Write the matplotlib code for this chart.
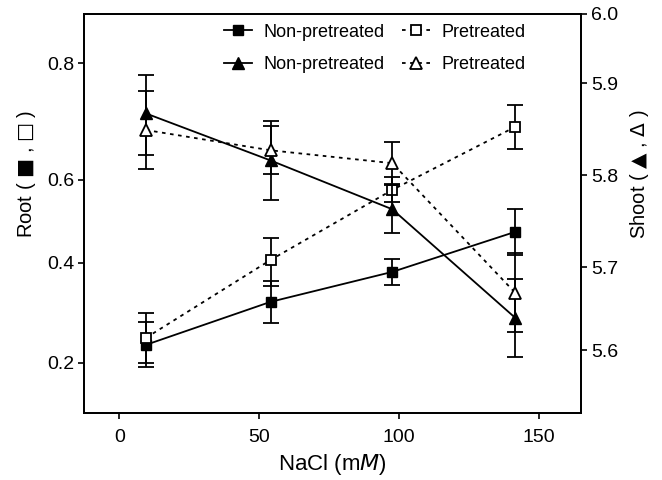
import numpy as np
import matplotlib
matplotlib.use("Agg")
import matplotlib.pyplot as plt

plt.rcParams["font.family"] = ["Liberation Sans", "DejaVu Sans"]
plt.rcParams["mathtext.fontset"] = "dejavusans"

# data
nacl = [9.5, 54, 97.5, 141.5]

root_np = [0.236, 0.322, 0.382, 0.475]
root_np_err = [0.045, 0.042, 0.027, 0.055]
root_p = [0.250, 0.407, 0.576, 0.691]
root_p_err = [0.050, 0.053, 0.029, 0.038]

shoot_np = [5.867, 5.816, 5.763, 5.639]
shoot_np_err = [0.045, 0.043, 0.026, 0.047]
shoot_p = [5.849, 5.827, 5.813, 5.669]
shoot_p_err = [0.042, 0.026, 0.023, 0.047]

# the printed axes are not evenly spaced, so calibrate each one from its ticks
left_ticks = [0.2, 0.4, 0.6, 0.8]
left_tick_pos = [-363, -263, -180, -63]
right_ticks = [5.6, 5.7, 5.8, 5.9, 6.0]
right_tick_pos = [-350, -267, -175, -83, -14]


def calibrated(vals, pos):
    vals = np.asarray(vals, float)
    pos = np.asarray(pos, float)
    s0 = (pos[1] - pos[0]) / (vals[1] - vals[0])
    s1 = (pos[-1] - pos[-2]) / (vals[-1] - vals[-2])

    def fwd(v):
        v = np.asarray(v, float)
        out = np.interp(v, vals, pos)
        out = np.where(v < vals[0], pos[0] + (v - vals[0]) * s0, out)
        return np.where(v > vals[-1], pos[-1] + (v - vals[-1]) * s1, out)

    def inv(p):
        p = np.asarray(p, float)
        out = np.interp(p, pos, vals)
        out = np.where(p < pos[0], vals[0] + (p - pos[0]) / s0, out)
        return np.where(p > pos[-1], vals[-1] + (p - pos[-1]) / s1, out)

    return fwd, inv


fig = plt.figure(figsize=(6.62, 4.8), dpi=100)
ax = fig.add_axes([0.127, 0.14, 0.751, 0.831])
ax2 = ax.twinx()

ax.set_yscale("function", functions=calibrated(left_ticks, left_tick_pos))
ax2.set_yscale("function", functions=calibrated(right_ticks, right_tick_pos))

ek = dict(ecolor="black", elinewidth=1.3, capsize=5.5, capthick=1.3)
dots = (0, (2, 2.5))

h1 = ax.errorbar(nacl, root_np, yerr=root_np_err, color="black", lw=1.3,
                 marker="s", ms=7, mfc="black", mec="black", ls="-", **ek)
h2 = ax.errorbar(nacl, root_p, yerr=root_p_err, color="black", lw=1.3,
                 marker="s", ms=7, mfc="white", mec="black", mew=1.3,
                 ls=dots, **ek)
h3 = ax2.errorbar(nacl, shoot_np, yerr=shoot_np_err, color="black", lw=1.3,
                  marker="^", ms=8.5, mfc="black", mec="black", ls="-", **ek)
h4 = ax2.errorbar(nacl, shoot_p, yerr=shoot_p_err, color="black", lw=1.3,
                  marker="^", ms=8.5, mfc="white", mec="black", mew=1.3,
                  ls=dots, **ek)

ax.set_xlim(-12.6, 165)
ax.set_ylim(0.1, 0.884)
ax2.set_ylim(5.525, 6.0)

ax.set_xticks([0, 50, 100, 150])
ax.set_yticks(left_ticks)
ax.set_yticklabels(["0.2", "0.4", "0.6", "0.8"])
ax2.set_yticks(right_ticks)
ax2.set_yticklabels(["5.6", "5.7", "5.8", "5.9", "6.0"])
ax.minorticks_off()
ax2.minorticks_off()

for a in (ax, ax2):
    a.tick_params(direction="out", length=4, width=1.2, labelsize=14, pad=3)
    for s in a.spines.values():
        s.set_linewidth(1.3)
ax.tick_params(axis="x", pad=8)

ax.set_xlabel("NaCl (m$\\mathit{M}$)", fontsize=16, labelpad=4)
ax.set_ylabel("Root ( $\u25a0$ , $\u25a1$ )", fontsize=14.5)
ax2.set_ylabel("Shoot ( $\u25b2$ , $\u0394$ )", fontsize=14.5)
ax.yaxis.set_label_coords(-0.092, 0.60)
ax2.yaxis.set_label_coords(1.095, 0.597)

ax2.legend([h1[0], h3[0], h2[0], h4[0]],
           ["Non-pretreated", "Non-pretreated", "Pretreated", "Pretreated"],
           ncol=2, frameon=False, fontsize=13, loc="upper center",
           bbox_to_anchor=(0.585, 1.016), handlelength=1.55, handletextpad=0.65,
           columnspacing=0.95, labelspacing=0.85)

plt.savefig("out.png", dpi=100)
